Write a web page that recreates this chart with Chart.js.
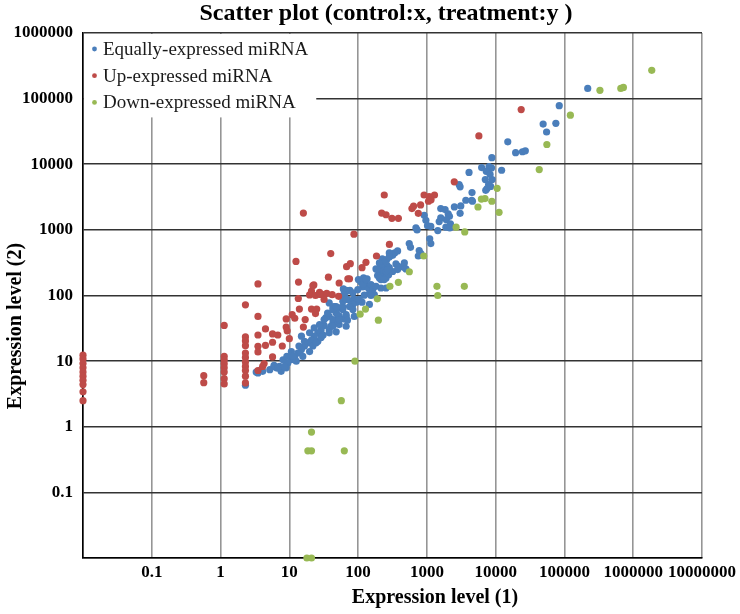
<!DOCTYPE html>
<html>
<head>
<meta charset="utf-8">
<title>Scatter plot</title>
<script src="https://cdn.jsdelivr.net/npm/chart.js@4.4.1/dist/chart.umd.min.js"></script>
<style>
    html, body { margin: 0; padding: 0; background: #fff; }
    #wrap { width: 740px; height: 614px; }
</style>
</head>
<body>
<div id="wrap"><canvas id="scatterChart" width="740" height="614"></canvas></div>
<script>
// Labels
const chartTitle = 'Scatter plot (control:x, treatment:y )';
const xAxisTitle = 'Expression level (1)';
const yAxisTitle = 'Expression level (2)';
const seriesNames = ['Equally-expressed miRNA', 'Up-expressed miRNA', 'Down-expressed miRNA'];

// Tick values (log scale, powers of ten)
const xTicks = [0.01, 0.1, 1, 10, 100, 1000, 10000, 100000, 1000000, 10000000];
const yTicks = [0.01, 0.1, 1, 10, 100, 1000, 10000, 100000, 1000000];

// [control, treatment] pairs
const equallyExpressed = [
    [218000, 143000], [84000, 78000], [49000, 41000], [75000, 42000], [55000, 31000],
    [15000, 22000], [19500, 15000], [24500, 15500], [27000, 16000], [8800, 12600],
    [12200, 8100], [8700, 8800], [6250, 8900], [8000, 9200], [7300, 7800], [8300, 7000],
    [7070, 5850], [8900, 5850], [7900, 4900], [7500, 4260], [7170, 4000], [8450, 4600],
    [4100, 7500], [2940, 4900], [3040, 4530], [4530, 3700], [4490, 2830], [3680, 2830],
    [3110, 2320], [3040, 1790], [2510, 2240], [1590, 2110], [1840, 2040], [2040, 1750],
    [2130, 1610], [1920, 1430], [1590, 1520], [914, 1670], [967, 1400], [1020, 1160],
    [1140, 1130], [693, 1070], [720, 1000], [1510, 1340], [1890, 1100], [2200, 1230],
    [2150, 1070], [1440, 975], [554, 618], [578, 543], [773, 484], [818, 436], [1100, 730],
    [1140, 618], [4600, 2730], [750, 400], [375, 478], [340, 446], [318, 410], [284, 446],
    [225, 361], [260, 352], [284, 387], [240, 320], [204, 314], [263, 288], [220, 260],
    [284, 266], [355, 303], [470, 314], [458, 269], [384, 279], [496, 254], [182, 254],
    [204, 248], [228, 234], [192, 201], [228, 192], [255, 185], [278, 208], [215, 175],
    [120, 185], [135, 179], [101, 175], [110, 161], [131, 141], [117, 135], [141, 130],
    [154, 147], [163, 123], [146, 107], [182, 138], [172, 103], [61, 126], [69, 116],
    [76, 120], [57, 97], [63, 101], [70, 87], [79, 82], [87, 88], [94, 79], [84, 73],
    [123, 101], [114, 79], [154, 100], [38, 77], [45, 68], [53, 65], [48, 54], [60, 61],
    [75, 68], [67, 48], [51, 46], [43, 38], [53, 36], [84, 61], [88, 48], [318, 232],
    [375, 248], [255, 232], [204, 185], [240, 175], [270, 248], [190, 248], [215, 130],
    [255, 130], [146, 73], [117, 147], [99, 123], [84, 110], [67, 120], [62, 102],
    [43, 67], [60, 67], [48, 56], [38, 48], [34, 46], [43, 43], [53, 49], [51, 38],
    [63, 44], [67, 34], [40, 34], [32, 35], [29, 30], [38, 30], [48, 28], [26, 27],
    [23, 24], [31, 25], [21, 21], [18.6, 19], [26, 20], [22, 17], [16.6, 17], [15, 15],
    [19.7, 14], [13.3, 13.3], [12, 11.8], [15.7, 11.8], [10.7, 10.5], [12.6, 10],
    [9.5, 9.4], [8.1, 10.5], [9, 7.9], [7.2, 8.3], [6.5, 7.9], [6, 8.3], [5.2, 7.4],
    [4.1, 7.0], [3.5, 6.6], [7.6, 7.0], [3.3, 6.8], [3.9, 7.4], [6, 8.6], [6.8, 7.9],
    [8.5, 8.3], [9.2, 11.8], [10.7, 14], [11.3, 11.8], [13.8, 17], [16.6, 20], [15, 24],
    [19.7, 27], [23, 32], [27.5, 36], [32, 43], [36, 54], [43, 61], [48, 68], [60, 82],
    [67, 87], [131, 175], [104, 87], [24.5, 19], [29, 23], [38, 27], [43, 34], [53, 43],
    [67, 51], [70, 42], [2.3, 4.3]
];

const upExpressed = [
    [0.01, 12.3], [0.01, 10.8], [0.01, 9.2], [0.01, 7.9], [0.01, 6.8], [0.01, 5.9],
    [0.01, 5.1], [0.01, 4.4], [0.01, 3.4], [0.01, 2.5],
    [0.57, 6.0], [0.57, 4.7],
    [1.13, 35], [1.13, 11.8], [1.13, 10.4], [1.13, 9.1], [1.13, 7.9], [1.13, 6.8],
    [1.13, 5.4], [1.13, 4.5],
    [2.3, 72], [2.3, 23.4], [2.3, 20.3], [2.3, 17.2], [2.3, 13.3], [2.3, 11.4], [2.3, 9.7],
    [2.3, 8.3], [2.3, 7.2], [2.3, 5.9], [2.3, 4.65],
    [3.5, 150], [3.5, 48], [3.5, 25], [3.5, 16.8], [3.5, 13.8], [3.5, 7.2],
    [4.5, 31], [5.7, 26], [6.8, 25], [4.5, 17.4], [5.7, 19.4], [7.9, 17], [10, 22],
    [5.7, 11.6], [4.3, 9.2], [4.1, 8.3],
    [9, 44], [9, 33], [9.3, 29], [11, 51], [12, 45], [17, 43], [14, 62], [21, 62], [25, 62],
    [24, 53], [16, 33], [13.5, 90], [32, 87], [52, 97],
    [22.7, 145], [21, 117], [19.7, 102], [24, 100], [27.5, 112], [31.7, 103], [35, 108],
    [42, 103], [28, 104],
    [12.5, 330], [13.6, 160], [37, 190], [53, 155], [68, 275], [77, 305], [40, 435],
    [16, 1800], [87, 860], [114, 265], [130, 320], [75, 180], [22, 141], [185, 400],
    [71, 180], [285, 600],
    [240, 3400], [220, 1800], [255, 1700], [310, 1500], [385, 1500],
    [606, 2110], [640, 2300], [810, 2400], [750, 1790], [910, 3400], [1055, 2730],
    [1080, 3200], [1290, 3400], [1150, 2870],
    [2500, 5400], [5700, 27000], [23500, 68000]
];

const downExpressed = [
    [1860000, 270000], [328000, 134000], [660000, 143000], [720000, 148000],
    [122000, 56000], [55500, 20000], [43000, 8300], [10500, 4300], [7000, 3000],
    [6200, 2950], [8800, 2730], [5530, 2230], [11200, 1850], [2660, 1100], [3550, 930],
    [900, 400], [555, 230], [385, 159], [290, 138], [190, 89], [128, 62], [107, 52],
    [197, 42], [1400, 138], [3500, 138], [1440, 100], [90, 10], [57, 2.5],
    [21, 0.83], [18.6, 0.43], [21, 0.43], [63, 0.43], [18, 0.01], [21, 0.01]
];

const seriesColors = ['#4a7ebb', '#be4b48', '#98b954'];
const FONT = "'Liberation Serif', 'Times New Roman', serif";

const toPoints = pairs => pairs.map(([x, y]) => ({ x, y }));

function tickLabel(value) {
    // the 0.01 corner is left blank, like the original
    return value === 0.01 ? '' : String(value);
}

// Legend sits inside the plot, top-left, on a white box that hides the grid
const insideLegend = {
    id: 'insideLegend',
    beforeDatasetsDraw(chart) {
        const ctx = chart.ctx;
        const area = chart.chartArea;
        const rowHeight = 26.7;
        const firstRow = area.top + 16;

        ctx.save();
        ctx.font = `19px ${FONT}`;
        const textWidth = Math.max(...chart.data.datasets.map(ds => ctx.measureText(ds.label).width));
        const boxRight = area.left + 20 + textWidth + 8;
        const boxBottom = firstRow + rowHeight * (chart.data.datasets.length - 1) + 15;

        ctx.fillStyle = '#ffffff';
        ctx.fillRect(area.left + 1, area.top + 1, boxRight - area.left - 1, boxBottom - area.top - 1);

        ctx.textAlign = 'left';
        ctx.textBaseline = 'middle';
        chart.data.datasets.forEach((ds, i) => {
            const y = firstRow + i * rowHeight;
            ctx.fillStyle = ds.backgroundColor;
            ctx.beginPath();
            ctx.arc(area.left + 11.5, y, 2.4, 0, Math.PI * 2);
            ctx.fill();
            ctx.fillStyle = '#1a1a1a';
            ctx.fillText(ds.label, area.left + 20, y + 1);
        });
        ctx.restore();
    }
};

const chartTexts = {
    id: 'chartTexts',
    afterDraw(chart) {
        const ctx = chart.ctx;
        ctx.save();
        ctx.fillStyle = '#000';
        ctx.textAlign = 'center';
        ctx.textBaseline = 'alphabetic';
        ctx.font = `bold 24px ${FONT}`;
        ctx.fillText(chartTitle, 386, 20);
        ctx.font = `bold 20px ${FONT}`;
        ctx.fillText(xAxisTitle, 435, 603);
        ctx.translate(16, 326);
        ctx.rotate(-Math.PI / 2);
        ctx.textBaseline = 'middle';
        ctx.fillText(yAxisTitle, 0, 0);
        ctx.restore();
    }
};

const datasetStyle = {
    pointRadius: 3.6,
    pointHoverRadius: 3.6,
    pointBorderWidth: 0,
    clip: false
};

const ctx = document.getElementById('scatterChart');
const chart = new Chart(ctx, {
    type: 'scatter',
    data: {
        datasets: [
            { label: seriesNames[0], data: toPoints(equallyExpressed), backgroundColor: seriesColors[0], borderColor: seriesColors[0], order: 3, ...datasetStyle },
            { label: seriesNames[1], data: toPoints(upExpressed), backgroundColor: seriesColors[1], borderColor: seriesColors[1], order: 2, ...datasetStyle },
            { label: seriesNames[2], data: toPoints(downExpressed), backgroundColor: seriesColors[2], borderColor: seriesColors[2], order: 1, ...datasetStyle }
        ]
    },
    options: {
        responsive: false,
        animation: false,
        layout: {
            padding: { top: 33, right: 36, bottom: 0, left: 0 }
        },
        plugins: {
            title: { display: false },
            tooltip: { enabled: false },
            legend: { display: false }
        },
        scales: {
            x: {
                type: 'logarithmic',
                min: 0.01,
                max: 10000000,
                afterBuildTicks: scale => { scale.ticks = xTicks.map(v => ({ value: v })); },
                afterFit: scale => { scale.height = 56; },
                grid: { color: '#959595', lineWidth: 1.6, drawTicks: false },
                border: { color: '#000', width: 1.6 },
                ticks: {
                    autoSkip: false,
                    maxRotation: 0,
                    padding: 4,
                    color: '#000',
                    font: { family: FONT, size: 17, weight: 'bold' },
                    callback: tickLabel
                }
            },
            y: {
                type: 'logarithmic',
                min: 0.01,
                max: 1000000,
                afterBuildTicks: scale => { scale.ticks = yTicks.map(v => ({ value: v })); },
                afterFit: scale => { scale.width = 83; },
                grid: { color: '#333333', lineWidth: 1.6, drawTicks: false },
                border: { color: '#000', width: 1.6 },
                ticks: {
                    autoSkip: false,
                    padding: 10,
                    color: '#000',
                    font: { family: FONT, size: 17, weight: 'bold' },
                    callback: tickLabel
                }
            }
        }
    },
    plugins: [insideLegend, chartTexts]
});
</script>
</body>
</html>
